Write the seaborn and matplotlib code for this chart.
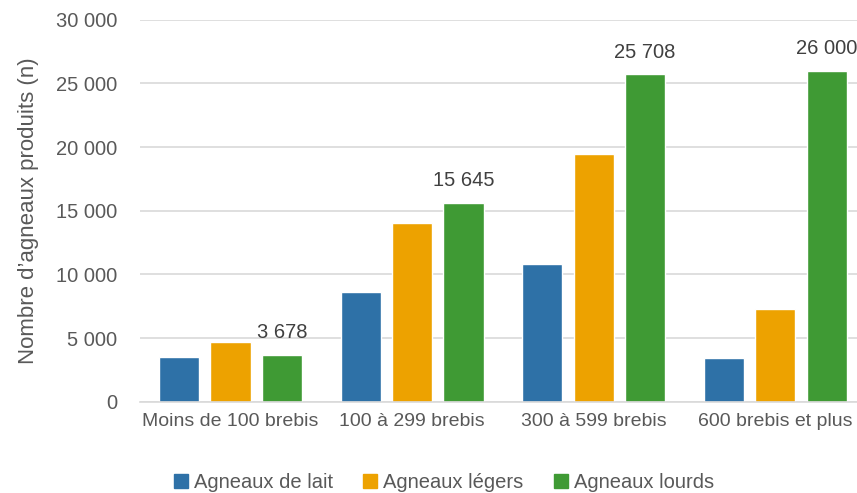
import pandas as pd
import numpy as np
import seaborn as sns
import matplotlib.pyplot as plt
from matplotlib.ticker import FuncFormatter, MultipleLocator
from matplotlib.patches import Patch

groupes = ['Moins de 100 brebis', '100 à 299 brebis', '300 à 599 brebis', '600 brebis et plus']
types = ['Agneaux de lait', 'Agneaux légers', 'Agneaux lourds']
lait = [3500, 8650, 10800, 3400]
legers = [4700, 14050, 19450, 7250]
lourds = [3678, 15645, 25708, 26000]
couleurs = ['#2E71A7', '#EDA200', '#3F9A34']

df = pd.DataFrame({
    'groupe': groupes * 3,
    'type': [t for t in types for _ in groupes],
    'n': lait + legers + lourds,
})

sns.set_style('white')
plt.rcParams['font.family'] = ['Liberation Sans Narrow', 'Liberation Sans', 'DejaVu Sans']

fig, ax = plt.subplots(figsize=(8.57, 4.93), dpi=100)
sns.barplot(data=df, x='groupe', y='n', hue='type', palette=couleurs,
            width=0.85, gap=0.22, ax=ax, legend=False, saturation=1)

def fmt(v, pos=None):
    return f'{int(v):,}'.replace(',', ' ')

# étiquettes seulement sur les agneaux lourds
for i, v in enumerate(lourds):
    ax.text(i + 0.283, v + 1000, fmt(v), ha='center', va='bottom',
            fontsize=14.5, color='#404040')

ax.set_ylim(0, 30000)
ax.set_xlim(-0.5, 3.45)
ax.yaxis.set_major_locator(MultipleLocator(5000))
ax.yaxis.set_major_formatter(FuncFormatter(fmt))
ax.grid(axis='y', color='#d9d9d9', linewidth=1.2)
ax.set_axisbelow(True)
for s in ['top', 'right', 'left']:
    ax.spines[s].set_visible(False)
ax.spines['bottom'].set_color('#d9d9d9')
ax.spines['bottom'].set_linewidth(1.2)
ax.tick_params(axis='x', length=0, labelsize=14, colors='#595959', pad=8)
ax.tick_params(axis='y', length=0, labelsize=14.5, colors='#595959', pad=16)
ax.set_xlabel('')
ax.set_ylabel("Nombre d\u2019agneaux produits (n)", fontsize=16, color='#595959', labelpad=12)

handles = [Patch(color=c, label=t) for c, t in zip(couleurs, types)]
fig.legend(handles=handles, loc='lower center', ncol=3, frameon=False,
           fontsize=14.5, labelcolor='#595959', handlelength=0.7, handleheight=0.7,
           handletextpad=0.3, columnspacing=1.5, bbox_to_anchor=(0.518, -0.035))

fig.subplots_adjust(left=0.163, right=1.0, top=0.96, bottom=0.185)
fig.savefig('out.png', dpi=100)
